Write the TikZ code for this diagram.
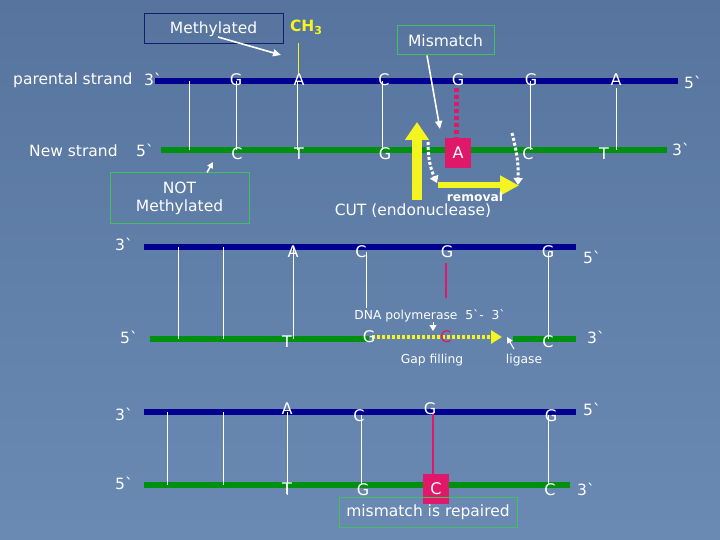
\documentclass[tikz,border=0pt]{standalone}
\usepackage{fontspec}
\newfontfamily\dfont{DejaVu Sans}
\usetikzlibrary{arrows.meta,calc}
\definecolor{bgtop}{HTML}{56749E}
\definecolor{bgbot}{HTML}{6A8AB4}
\definecolor{pstr}{HTML}{000090}
\definecolor{nstr}{HTML}{009010}
\definecolor{mred}{HTML}{E0186A}
\definecolor{cyel}{HTML}{F4F420}
\definecolor{gbox}{HTML}{40C060}
\definecolor{nbox}{HTML}{102070}
\newcommand\lfont{\dfont\fontsize{15.5}{18}\selectfont}
\newcommand\bfont{\dfont\fontsize{16}{18}\selectfont}
\newcommand\sfont{\dfont\fontsize{12.3}{14}\selectfont}
\tikzset{
  lbl/.style={text=white, font=\lfont, inner sep=0pt},
  base/.style={text=white, font=\bfont, inner sep=0pt},
  small/.style={text=white, font=\sfont, inner sep=0pt},
  pstrand/.style={draw=pstr, line width=6pt},
  nstrand/.style={draw=nstr, line width=6pt},
  pairline/.style={draw=white, line width=1pt},
  mline/.style={draw=mred, line width=1.3pt},
  callout/.style={rectangle, draw=gbox, line width=1pt, text=white, font=\lfont,
                  align=center, inner sep=0pt},
  mmbox/.style={rectangle, fill=mred, text=white, font=\bfont,
                minimum width=26pt, minimum height=30pt, inner sep=0pt},
  note/.style={-{Triangle[length=8pt,width=7pt]}, draw=white, line width=1.6pt},
  dots/.style={draw=white, line width=3pt, dash pattern=on 3pt off 2pt},
  yel/.style={draw=cyel, line width=10pt, -{Triangle[length=18pt,width=23pt]}}
}

\begin{document}
\begin{tikzpicture}[x=1pt,y=-1pt]
\shade[top color=bgtop, bottom color=bgbot] (0,0) rectangle (720,540);
\useasboundingbox (0,0) rectangle (720,540);

% ---- panel 1: parental / new strand
\coordinate (t1) at (0,81); \coordinate (b1) at (0,150);
\draw[pstrand] (155,81) coordinate (t1s) -- (678,81) coordinate (t1e);
\draw[nstrand] (161,150) coordinate (b1s) -- (667,150) coordinate (b1e);
\node[lbl, anchor=west] (ps) at (13,80) {parental strand};
\node[lbl] (ps3) at (153,79) {3`};
\node[lbl, anchor=west] (ns) at (29,151) {New strand};
\node[lbl] (ns5) at (145,150) {5`};
\node[lbl] (t1five) at (693,82) {5`};
\node[lbl] (b1three) at (681,149) {3`};
\coordinate (x1) at (189,0);
\draw[pairline] (x1 |- t1) -- (x1 |- b1);
\node[base] (tg1) at (236,80) {G};
\node[base] (ta1) at (299,80) {A};
\node[base] (tc1) at (384,80) {C};
\node[base] (tg2) at (458,80) {G};
\node[base] (tg3) at (531,80) {G};
\node[base] (ta2) at (616,80) {A};
\node[base] (bc1) at (237,154) {C};
\node[base] (bt1) at (299,154) {T};
\node[base] (bg1) at (385,154) {G};
\node[mmbox] (ba1) at (458,153) {A};
\node[base] (bc2) at (528,154) {C};
\node[base] (bt2) at (604,154) {T};
\draw[pairline] (236,81) -- (236,150);
\draw[pairline] (297,81) -- (297,150);
\draw[pairline] (382,81) -- (382,150);
\draw[pairline] (530,81) -- (530,150);
\draw[pairline] (616,88) -- (616,150);
\draw[draw=mred, line width=5pt, dash pattern=on 4pt off 3pt] (tg2.south) ++(-2,2) -- (ba1.north -| 456,0);

\node[rectangle, draw=nbox, line width=1pt, minimum width=139pt, minimum height=30pt,
      lbl] (meth) at (213.5,29) {Methylated};
\node[text=cyel, font=\lfont\bfseries, inner sep=0pt] (ch3) at (306,27)
  {CH\raisebox{-3pt}{\fontsize{11}{12}\selectfont 3}};
\draw[draw=cyel, line width=1pt] (298,43) -- (ta1.north -| 298,0);
\draw[note] (218,37) -- (281,55);
\node[callout, minimum width=97pt, minimum height=29pt] (mism) at (445.5,40.5) {Mismatch};
\draw[note] (mism.south -| 427,0) -- (440,129);
\node[callout, minimum width=139pt, minimum height=51pt] (notm) at (179.5,198.5) {NOT\\Methylated};
\draw[note, -{Triangle[length=6pt,width=6pt]}] (notm.north -| 207,0) -- (213,162);

\draw[yel] (417,200) coordinate (cutb) -- (417,122) coordinate (cutt);
\draw[dots, -{Triangle[length=7pt,width=9pt]}] (428,142) to[bend right=12] (437,183);
\draw[dots, -{Triangle[length=7pt,width=9pt]}] (512,133) to[bend left=8] (518,185);
\draw[draw=cyel, line width=6pt, -{Triangle[length=19pt,width=19pt]}] (438,185.5) -- (519,185.5);
\node[small, font=\sfont\bfseries] (rem) at (475,197) {removal};
\node[lbl] (cut) at (413,211) {CUT (endonuclease)};

% ---- panel 2: gap filling
\coordinate (t2) at (0,247); \coordinate (b2) at (0,339);
\draw[pstrand] (144,247) -- (576,247);
\draw[nstrand] (150,339) -- (369,339);
\draw[nstrand] (513,339) -- (576,339);
\node[lbl] (t2three) at (124,244) {3`};
\node[lbl] (b2five) at (129,337) {5`};
\node[lbl] (t2five) at (592,257) {5`};
\node[lbl] (b2three) at (596,337) {3`};
\draw[pairline] (178,247) -- (178,339);
\draw[pairline] (223,247) -- (223,339);
\draw[pairline] (293,247) -- (293,339);
\draw[pairline] (366,252) -- (366,308);
\draw[pairline] (548,252) -- (548,339);
\draw[mline] (446,263) -- (446,298);
\node[base] (ta3) at (293,252) {A};
\node[base] (tc3) at (361,252) {C};
\node[base] (tg4) at (447,252) {G};
\node[base] (tg5) at (548,252) {G};
\node[base] (bt3) at (287,342) {T};
\draw[draw=cyel, line width=4pt, dash pattern=on 3pt off 2pt, -{Triangle[length=11pt,width=13pt]}]
  (372,337) coordinate (gapb) -- (502,337) coordinate (gape);
\node[base] (bg3) at (369,337) {G};
\node[base, text=mred] (bc3) at (446,337) {C};
\node[base] (bc4) at (548,342) {C};
\node[small] (pol) at (430,316) {DNA polymerase \ 5`- \ 3`};
\draw[note, line width=1pt, -{Triangle[length=6pt,width=7pt]}] (433,322) -- (433,331);
\node[small] (gap) at (432,360) {Gap filling};
\node[small] (lig) at (524,360) {ligase};
\draw[note, line width=1pt, -{Triangle[length=6pt,width=6pt]}] (514,349) -- (507,337);

% ---- panel 3: repaired
\draw[pstrand] (144,412) -- (576,412);
\draw[nstrand] (144,485) -- (570,485);
\node[lbl] (t3three) at (124,414) {3`};
\node[lbl] (b3five) at (124,483) {5`};
\node[lbl] (t3five) at (592,409) {5`};
\node[lbl] (b3three) at (586,489) {3`};
\draw[pairline] (167,412) -- (167,485);
\draw[pairline] (223,412) -- (223,485);
\draw[pairline] (287,412) -- (287,495);
\draw[pairline] (361,415) -- (361,485);
\draw[pairline] (548,415) -- (548,485);
\draw[mline] (433,413) -- (433,480);
\node[base] (ta4) at (287,409) {A};
\node[base] (tc4) at (359,416) {C};
\node[base] (tg6) at (430,409) {G};
\node[base] (tg7) at (551,416) {G};
\node[base] (bt4) at (287,489) {T};
\node[base] (bg4) at (363,490) {G};
\node[mmbox] (bc5) at (436,488.5) {C};
\node[base] (bc6) at (550,490) {C};
\node[callout, minimum width=178pt, minimum height=30pt] (rep) at (428,512) {mismatch is repaired};
\end{tikzpicture}
\end{document}
